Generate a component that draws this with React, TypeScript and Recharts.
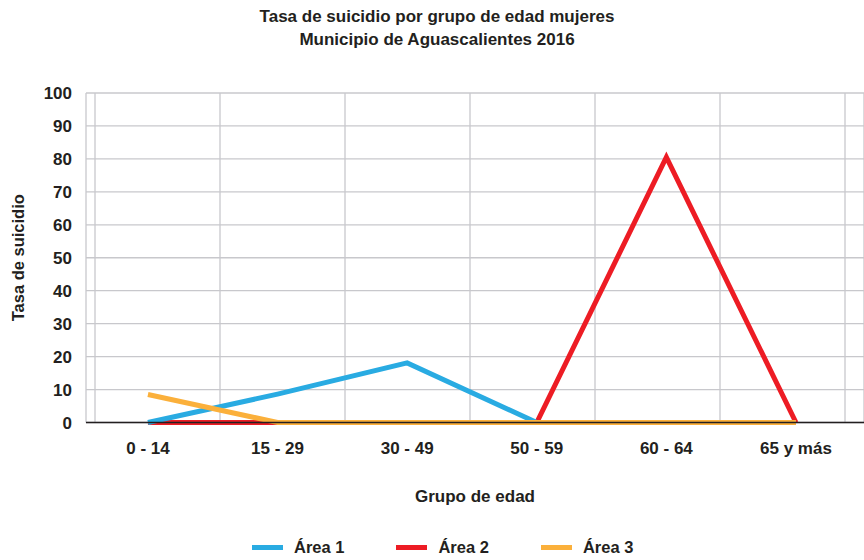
import React from 'react';
import { LineChart, Line, XAxis, YAxis, CartesianGrid } from 'recharts';

const categories = ['0 - 14', '15 - 29', '30 - 49', '50 - 59', '60 - 64', '65 y más'];
const area1 = [0, 8.6, 18.1, 0, 0, 0];
const area2 = [0, 0, 0, 0, 80.5, 0];
const area3 = [8.5, 0, 0, 0, 0, 0];
const yTicks = [0, 10, 20, 30, 40, 50, 60, 70, 80, 90, 100];
const gridTicks = [0, 1, 2, 3, 4, 5, 6];
const seriesNames = ['Área 1', 'Área 2', 'Área 3'];
const seriesColors = ['#29ABE2', '#ED1C24', '#FBB03B'];

const data = categories.map((name, i) => ({
  idx: i,
  name,
  a1: area1[i],
  a2: area2[i],
  a3: area3[i],
}));

const FONT = '"Liberation Sans", Arial, sans-serif';
const TEXT = '#231f20';

export default function App() {
  return (
    <div style={{ position: 'absolute', left: 0, top: 0, width: 864, height: 560, background: '#fff', fontFamily: FONT, color: TEXT }}>
      <div style={{ position: 'absolute', left: 0, top: 5, width: 874, textAlign: 'center', fontSize: 17, fontWeight: 700, lineHeight: '23px' }}>
        <div>Tasa de suicidio por grupo de edad mujeres</div>
        <div>Municipio de Aguascalientes 2016</div>
      </div>
      <LineChart width={864} height={560} data={data} margin={{ top: 93, right: 0, bottom: 107.5, left: 0 }}>
        <XAxis xAxisId="grid" orientation="top" height={0} type="number" dataKey="idx" domain={[-0.072, 6.152]} ticks={gridTicks} hide allowDataOverflow />
        <CartesianGrid xAxisId="grid" stroke="#c8c8cc" strokeWidth={1.3} />
        <XAxis
          xAxisId="main"
          type="number"
          dataKey="idx"
          domain={[-0.478, 5.525]}
          ticks={[0, 1, 2, 3, 4, 5]}
          tickFormatter={(v: number) => categories[v]}
          allowDataOverflow
          axisLine={{ stroke: '#231f20', strokeWidth: 1.3 }}
          tickLine={false}
          tickSize={0}
          tickMargin={19}
          height={30}
          tick={{ fill: TEXT, fontSize: 17, fontWeight: 700, fontFamily: FONT }}
          label={{ value: 'Grupo de edad', position: 'bottom', offset: 37, style: { fill: TEXT, fontSize: 17, fontWeight: 700, fontFamily: FONT } }}
        />
        <YAxis
          type="number"
          domain={[0, 100]}
          ticks={yTicks}
          width={86}
          axisLine={false}
          tickLine={false}
          tickSize={0}
          tickMargin={14}
          interval={0}
          tick={{ fill: TEXT, fontSize: 17, fontWeight: 700, fontFamily: FONT }}
          label={{ value: 'Tasa de suicidio', angle: -90, position: 'insideLeft', offset: 18, style: { textAnchor: 'middle', fill: TEXT, fontSize: 16.5, fontWeight: 700, fontFamily: FONT } }}
        />
        <Line xAxisId="main" type="linear" dataKey="a2" name={seriesNames[1]} stroke={seriesColors[1]} strokeWidth={5} dot={false} activeDot={false} isAnimationActive={false} />
        <Line xAxisId="main" type="linear" dataKey="a1" name={seriesNames[0]} stroke={seriesColors[0]} strokeWidth={5} dot={false} activeDot={false} isAnimationActive={false} />
        <Line xAxisId="main" type="linear" dataKey="a3" name={seriesNames[2]} stroke={seriesColors[2]} strokeWidth={5} dot={false} activeDot={false} isAnimationActive={false} />
      </LineChart>
      <div style={{ position: 'absolute', left: 252, top: 536, display: 'flex', alignItems: 'center', gap: 52, fontSize: 16.5, fontWeight: 700, lineHeight: '22px' }}>
        {seriesNames.map((n, i) => (
          <div key={n} style={{ display: 'flex', alignItems: 'center' }}>
            <div style={{ width: 31, height: 5, background: seriesColors[i], marginRight: 11 }} />
            <span>{n}</span>
          </div>
        ))}
      </div>
    </div>
  );
}
